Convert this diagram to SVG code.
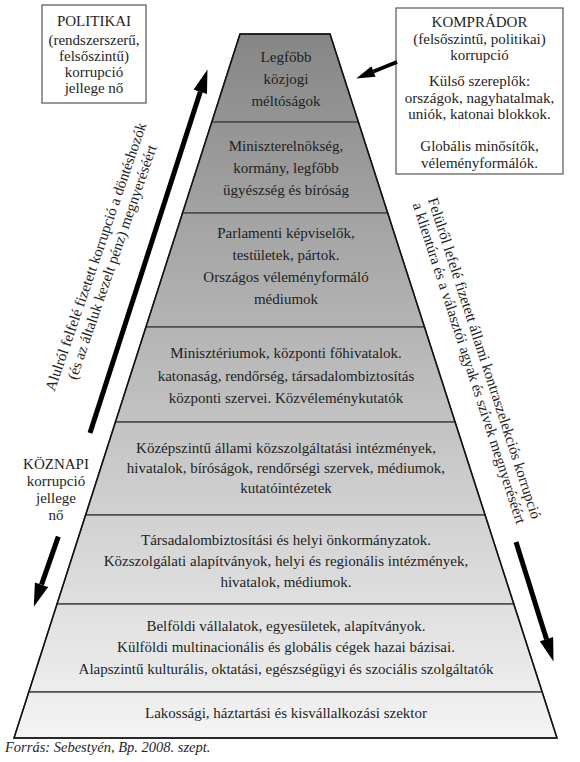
<svg xmlns="http://www.w3.org/2000/svg" width="580" height="762" viewBox="0 0 580 762" font-family="'Liberation Serif', 'DejaVu Serif', serif">
<defs>
<linearGradient id="pg" gradientUnits="userSpaceOnUse" x1="0" y1="34" x2="0" y2="738">
<stop offset="0" stop-color="#868686"/>
<stop offset="1" stop-color="#f4f4f4"/>
</linearGradient>
<marker id="ah" markerUnits="strokeWidth" viewBox="0 0 10 6" refX="0" refY="3" markerWidth="5" markerHeight="2.8" orient="auto">
<path d="M0,0 L10,3 L0,6 Z" fill="#000"/>
</marker>
</defs>
<style>
text{fill:#1e1e1e}
.t{font-size:15px;text-anchor:middle}
.layer{fill:url(#pg);stroke:#4a4a4a;stroke-width:1.4}
.box{fill:#fff;stroke:#555;stroke-width:1.2}
.arr{stroke:#000;fill:none;marker-end:url(#ah)}
</style>
<rect width="580" height="762" fill="#fff"/>

<g id="layer1">
<polygon class="layer" points="240,34 330,34 358.4,122 211.8,122"/>
<text class="t" x="286" y="62">Legfőbb</text>
<text class="t" x="286" y="84">közjogi</text>
<text class="t" x="286" y="106">méltóságok</text>
</g>
<g id="layer2">
<polygon class="layer" points="211.8,122 358.4,122 387.7,213 182.5,213"/>
<text class="t" x="286" y="151">Miniszterelnökség,</text>
<text class="t" x="286" y="173">kormány, legfőbb</text>
<text class="t" x="286" y="195">ügyészség és bíróság</text>
</g>
<g id="layer3">
<polygon class="layer" points="182.5,213 387.7,213 424.5,327 145.9,327"/>
<text class="t" x="286" y="238">Parlamenti képviselők,</text>
<text class="t" x="286" y="260">testületek, pártok.</text>
<text class="t" x="286" y="282">Országos véleményformáló</text>
<text class="t" x="286" y="304">médiumok</text>
</g>
<g id="layer4">
<polygon class="layer" points="145.9,327 424.5,327 455.1,422 115.4,422"/>
<text class="t" x="286" y="358">Minisztériumok, központi főhivatalok.</text>
<text class="t" x="286" y="381">katonaság, rendőrség, társadalombiztosítás</text>
<text class="t" x="286" y="403">központi szervei. Közvéleménykutatók</text>
</g>
<g id="layer5">
<polygon class="layer" points="115.4,422 455.1,422 485.1,515 85.6,515"/>
<text class="t" x="286" y="453">Középszintű állami közszolgáltatási intézmények,</text>
<text class="t" x="286" y="473">hivatalok, bíróságok, rendőrségi szervek, médiumok,</text>
<text class="t" x="286" y="493">kutatóintézetek</text>
</g>
<g id="layer6">
<polygon class="layer" points="85.6,515 485.1,515 513.8,604 57,604"/>
<text class="t" x="286" y="545">Társadalombiztosítási és helyi önkormányzatok.</text>
<text class="t" x="286" y="566">Közszolgálati alapítványok, helyi és regionális intézmények,</text>
<text class="t" x="286" y="587">hivatalok, médiumok.</text>
</g>
<g id="layer7">
<polygon class="layer" points="57,604 513.8,604 542.2,692 28.8,692"/>
<text class="t" x="286" y="631">Belföldi vállalatok, egyesületek, alapítványok.</text>
<text class="t" x="286" y="652">Külföldi multinacionális és globális cégek hazai bázisai.</text>
<text class="t" x="286" y="674">Alapszintű kulturális, oktatási, egészségügyi és szociális szolgáltatók</text>
</g>
<g id="layer8">
<polygon class="layer" points="28.8,692 542.2,692 557,738 14,738"/>
<text class="t" x="286" y="718">Lakossági, háztartási és kisvállalkozási szektor</text>
</g>
<polygon points="240,34 330,34 557,738 14,738" fill="none" stroke="#111" stroke-width="1.5"/>

<g id="politikai-box">
<rect class="box" x="42" y="5" width="104" height="98"/>
<text class="t" x="94" y="26">POLITIKAI</text>
<text class="t" x="94" y="45">(rendszerszerű,</text>
<text class="t" x="94" y="61">felsőszintű)</text>
<text class="t" x="94" y="77">korrupció</text>
<text class="t" x="94" y="93">jellege nő</text>
</g>

<g id="komprador-box">
<rect class="box" x="396" y="8" width="167" height="166"/>
<text class="t" x="479.5" y="27">KOMPRÁDOR</text>
<text class="t" x="479.5" y="44">(felsőszintű, politikai)</text>
<text class="t" x="479.5" y="60">korrupció</text>
<text class="t" x="479.5" y="86">Külső szereplők:</text>
<text class="t" x="479.5" y="103">országok, nagyhatalmak,</text>
<text class="t" x="479.5" y="119">uniók, katonai blokkok.</text>
<text class="t" x="479.5" y="151">Globális minősítők,</text>
<text class="t" x="479.5" y="168">véleményformálók.</text>
</g>

<g id="koznapi-label">
<text class="t" x="56" y="469">KÖZNAPI</text>
<text class="t" x="56" y="486">korrupció</text>
<text class="t" x="56" y="503">jellege</text>
<text class="t" x="56" y="520">nő</text>
</g>

<g id="upward-label">
<text class="t" transform="translate(100.5,258.3) rotate(-71)"><tspan x="0" y="0">Alulról felfelé fizetett korrupció a döntéshozók</tspan><tspan x="0" y="17">(és az általuk kezelt pénz) megnyeréséért</tspan></text>
</g>

<g id="downward-label">
<text class="t" transform="translate(479.7,359.7) rotate(72)"><tspan x="0" y="0">Felülről lefelé fizetett állami kontraszelekciós korrupció</tspan><tspan x="0" y="16">a klientúra és a választói agyak és szívek megnyeréséért</tspan></text>
</g>

<g id="connectors">
<line class="arr" x1="90" y1="433" x2="200.3" y2="91.8" stroke-width="5"/>
<line class="arr" x1="516" y1="542" x2="546.5" y2="639.2" stroke-width="5"/>
<line class="arr" x1="58.3" y1="536.7" x2="41.5" y2="584.7" stroke-width="5"/>
<line class="arr" x1="397" y1="62" x2="373.5" y2="71.5" stroke-width="4"/>
</g>

<text x="5" y="752" font-size="14.5" font-style="italic">Forrás: Sebestyén, Bp. 2008. szept.</text>
</svg>
